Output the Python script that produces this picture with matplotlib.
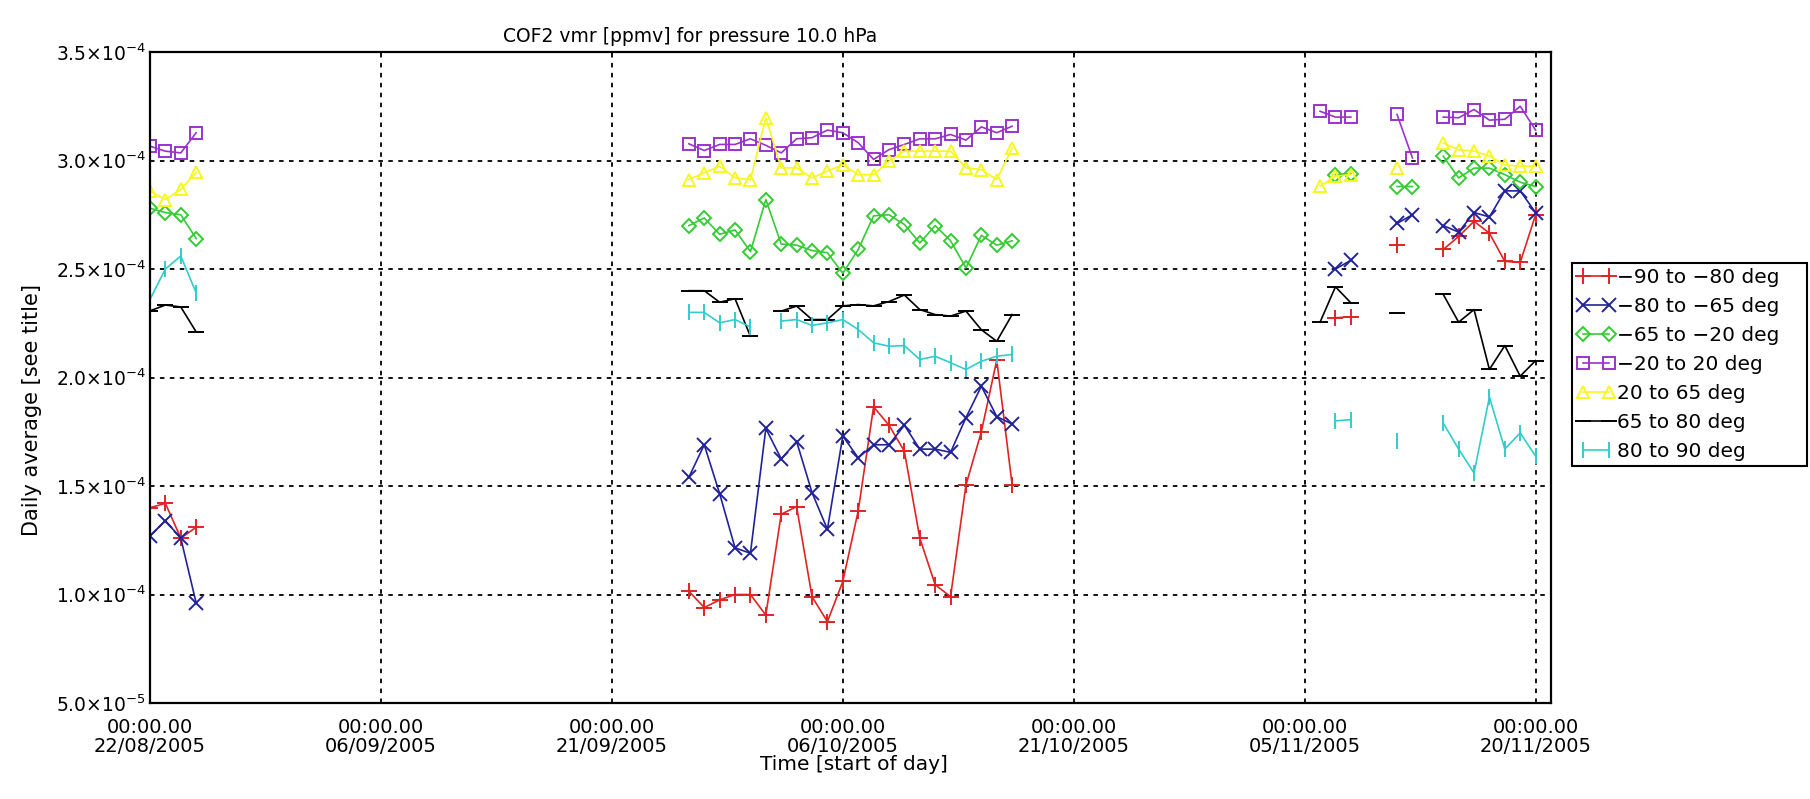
import numpy as np
import pandas as pd
import matplotlib
matplotlib.use('Agg')
import matplotlib.pyplot as plt
import matplotlib.dates as mdates
from matplotlib.ticker import FixedLocator, FixedFormatter

# ---------------- data (values in units of 1e-4 ppmv) ----------------
obs_dates = ['2005-08-22', '2005-08-23', '2005-08-24', '2005-08-25',
             '2005-09-26', '2005-09-27', '2005-09-28', '2005-09-29', '2005-09-30',
             '2005-10-01', '2005-10-02', '2005-10-03', '2005-10-04', '2005-10-05',
             '2005-10-06', '2005-10-07', '2005-10-08', '2005-10-09', '2005-10-10',
             '2005-10-11', '2005-10-12', '2005-10-13', '2005-10-14', '2005-10-15',
             '2005-10-16', '2005-10-17',
             '2005-11-06', '2005-11-07', '2005-11-08', '2005-11-11', '2005-11-12',
             '2005-11-14', '2005-11-15', '2005-11-16', '2005-11-17', '2005-11-18',
             '2005-11-19', '2005-11-20']
nan = np.nan
s_m90_m80 = [1.40, 1.42, 1.26, 1.31,
             1.015, 0.94, 0.975, 1.0, 1.0, 0.905, 1.37, 1.405, 0.99, 0.875, 1.06,
             1.385, 1.865, 1.78, 1.66, 1.26, 1.045, 0.99, 1.505, 1.75, 2.08, 1.505,
             nan, 2.275, 2.28, 2.61, nan, 2.59, 2.65, 2.72, 2.665, 2.535, 2.53, 2.75]
s_m80_m65 = [1.27, 1.34, 1.26, 0.96,
             1.54, 1.69, 1.465, 1.215, 1.19, 1.765, 1.625, 1.705, 1.47, 1.30, 1.73,
             1.63, 1.69, 1.69, 1.78, 1.67, 1.67, 1.655, 1.815, 1.96, 1.82, 1.785,
             nan, 2.50, 2.54, 2.71, 2.75, 2.70, 2.67, 2.76, 2.74, 2.86, 2.86, 2.76]
s_m65_m20 = [2.78, 2.76, 2.75, 2.64,
             2.70, 2.735, 2.66, 2.68, 2.58, 2.82, 2.615, 2.61, 2.585, 2.575, 2.48,
             2.59, 2.745, 2.75, 2.705, 2.62, 2.70, 2.63, 2.505, 2.655, 2.61, 2.63,
             nan, 2.935, 2.94, 2.88, 2.88, 3.02, 2.92, 2.965, 2.965, 2.935, 2.90, 2.88]
s_m20_20 = [3.066, 3.043, 3.035, 3.128,
            3.077, 3.046, 3.074, 3.074, 3.10, 3.07, 3.035, 3.10, 3.105, 3.14, 3.128,
            3.082, 3.005, 3.05, 3.074, 3.10, 3.10, 3.12, 3.094, 3.155, 3.128, 3.158,
            3.227, 3.20, 3.20, 3.212, 3.012, 3.20, 3.197, 3.235, 3.186, 3.19, 3.25, 3.14]
s_20_65 = [2.858, 2.82, 2.867, 2.945,
           2.912, 2.943, 2.974, 2.92, 2.912, 3.197, 2.966, 2.966, 2.92, 2.951, 2.98,
           2.935, 2.935, 2.997, 3.043, 3.043, 3.043, 3.043, 2.966, 2.958, 2.912, 3.058,
           2.882, 2.928, 2.935, 2.966, nan, 3.08, 3.05, 3.043, 3.02, 2.98, 2.974, 2.974]
s_65_80 = [2.307, 2.334, 2.325, 2.21,
           2.40, 2.40, 2.347, 2.363, 2.19, nan, 2.306, 2.329, 2.267, 2.267, 2.33,
           2.336, 2.33, 2.35, 2.38, 2.313, 2.29, 2.283, 2.306, 2.22, 2.167, 2.29,
           2.255, 2.418, 2.344, 2.298, nan, 2.383, 2.255, 2.313, 2.037, 2.147, 2.006, 2.078]
s_80_90 = [2.36, 2.50, 2.56, 2.39,
           2.30, 2.30, 2.252, 2.267, 2.233, nan, 2.26, 2.267, 2.24, 2.252, 2.267,
           2.221, 2.16, 2.144, 2.147, 2.083, 2.098, 2.068, 2.037, 2.075, 2.098, 2.106,
           nan, 1.80, 1.806, 1.706, nan, 1.79, 1.67, 1.56, 1.91, 1.67, 1.745, 1.637]

series_labels = ['\u221290 to \u221280 deg', '\u221280 to \u221265 deg', '\u221265 to \u221220 deg',
                 '\u221220 to 20 deg', '20 to 65 deg', '65 to 80 deg', '80 to 90 deg']
series_values = [s_m90_m80, s_m80_m65, s_m65_m20, s_m20_20, s_20_65, s_65_80, s_80_90]
series_colors = ['#e02424', '#22229a', '#33cc33', '#9933cc', '#f7f720', '#000000', '#33cccc']
series_markers = ['+', 'x', 'D', 's', '^', '_', '|']
series_msize = [11, 10, 7, 9, 8.5, 11, 11]

x_tick_dates = ['2005-08-22', '2005-09-06', '2005-09-21', '2005-10-06',
                '2005-10-21', '2005-11-05', '2005-11-20']
y_tick_values = [0.5e-4, 1.0e-4, 1.5e-4, 2.0e-4, 2.5e-4, 3.0e-4, 3.5e-4]
y_tick_labels = [r'5.0$\times$10$^{-5}$', r'1.0$\times$10$^{-4}$', r'1.5$\times$10$^{-4}$',
                 r'2.0$\times$10$^{-4}$', r'2.5$\times$10$^{-4}$', r'3.0$\times$10$^{-4}$',
                 r'3.5$\times$10$^{-4}$']

# ---------------- figure ----------------
W, H = 1810, 799
fig = plt.figure(figsize=(W / 100, H / 100), dpi=100)
ax = fig.add_axes([150 / W, 1 - 703 / H, (1551 - 150) / W, (703 - 52) / H])

full_days = pd.date_range('2005-08-22', '2005-11-20', freq='D')
idx = pd.to_datetime(obs_dates)
handles = []
for lab, vals, col, mk, ms in zip(series_labels, series_values, series_colors,
                                  series_markers, series_msize):
    s = pd.Series(np.array(vals, dtype=float) * 1e-4, index=idx).reindex(full_days)
    h, = ax.plot(s.index, s.values, color=col, lw=1.2, marker=mk, ms=ms,
                 mfc='none', mec=col, mew=1.4, label=lab)
    handles.append(h)

ax.set_xlim(pd.Timestamp('2005-08-22'), pd.Timestamp('2005-11-21'))
ax.set_ylim(0.5e-4, 3.5e-4)

xt = mdates.date2num(pd.to_datetime(x_tick_dates))
ax.xaxis.set_major_locator(FixedLocator(xt))
ax.xaxis.set_major_formatter(FixedFormatter(
    ['00:00.00\n' + pd.Timestamp(d).strftime('%d/%m/%Y') for d in x_tick_dates]))
ax.yaxis.set_major_locator(FixedLocator(y_tick_values))
ax.yaxis.set_major_formatter(FixedFormatter(y_tick_labels))

ax.grid(True, color='black', linestyle=(0, (2.5, 3)), linewidth=1.3)
for sp in ax.spines.values():
    sp.set_linewidth(1.6)
ax.tick_params(axis='both', direction='in', length=0)
ax.tick_params(axis='x', labelsize=14, pad=11)
ax.tick_params(axis='y', labelsize=13.5, pad=3)
for t in ax.get_xticklabels():
    t.set_linespacing(1.0)

fig.text(690 / W, 1 - 37 / H, 'COF2 vmr [ppmv] for pressure 10.0 hPa',
         ha='center', va='center', fontsize=13.5)
fig.text(32 / W, 1 - 410 / H, 'Daily average [see title]', rotation=90,
         ha='center', va='center', fontsize=15)
fig.text(854 / W, 1 - 764 / H, 'Time [start of day]', ha='center', va='center',
         fontsize=14.5)

leg = fig.legend(handles=handles, loc='upper left',
                 bbox_to_anchor=(1572 / W, 1 - 473 / H, (1807 - 1572) / W, (473 - 263) / H),
                 bbox_transform=fig.transFigure, mode='expand',
                 frameon=True, fancybox=False, edgecolor='black', framealpha=1,
                 borderpad=0.25, labelspacing=0.5, handlelength=1.9,
                 handletextpad=0.1, numpoints=2, fontsize=14.5, borderaxespad=0)
leg.get_frame().set_linewidth(1.5)

fig.savefig('out.png', dpi=100)
